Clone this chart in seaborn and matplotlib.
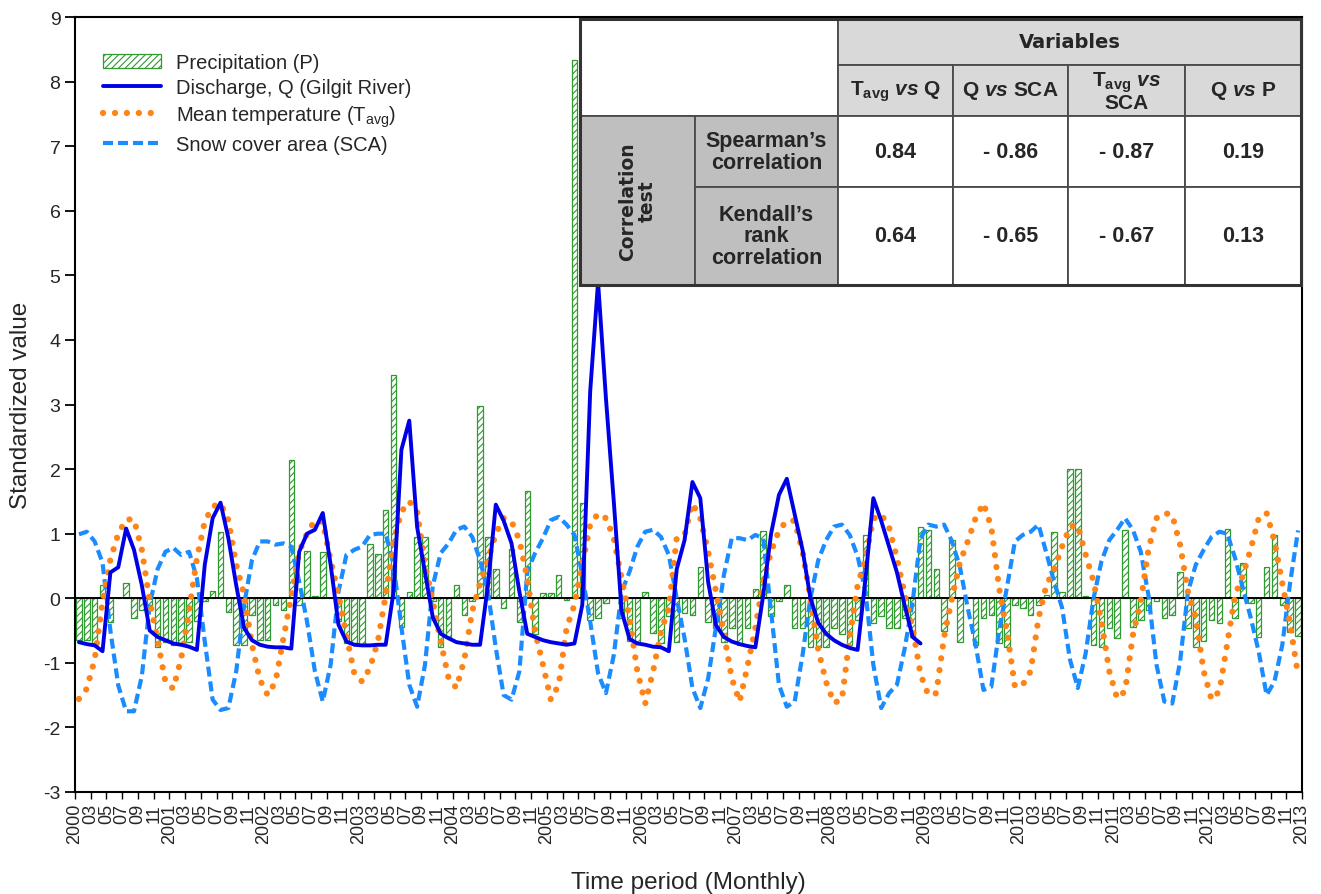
import matplotlib
matplotlib.use("Agg")
import matplotlib.pyplot as plt
import numpy as np
import seaborn as sns
from matplotlib.lines import Line2D
from matplotlib.patches import Patch, Rectangle

start_year = 2000
end_year = 2013

# standardized monthly values, one row per year (Jan..Dec)
precip = [
    -0.65, -0.65, -0.70, 0.20, -0.36, 0.00, 0.23, -0.31, -0.18, -0.10, -0.75, -0.67,  # 2000
    -0.72, -0.72, -0.67, -0.35, -0.05, 0.12, 1.02, -0.22, -0.72, -0.72, -0.26, -0.65,  # 2001
    -0.65, -0.10, -0.18, 2.14, -0.10, 0.73, 0.04, 0.72, 0.00, -0.35, -0.70, -0.70,  # 2002
    -0.72, 0.84, 0.68, 1.37, 3.45, -0.45, 0.10, 0.95, 0.95, -0.05, -0.75, -0.62,  # 2003
    0.20, -0.26, -0.05, 2.97, 0.95, 0.46, -0.15, 0.77, -0.36, 1.66, -0.55, 0.08,  # 2004
    0.08, 0.36, -0.02, 8.33, 1.47, -0.34, -0.31, -0.08, 0.00, -0.30, -0.66, -0.70,  # 2005
    0.10, -0.54, -0.70, -0.28, -0.67, -0.23, -0.26, 0.49, -0.36, -0.46, -0.67, -0.46,  # 2006
    -0.72, -0.46, 0.14, 1.04, -0.28, -0.05, 0.20, -0.46, -0.46, -0.75, -0.75, -0.75,  # 2007
    -0.46, -0.55, -0.72, -0.33, 0.98, -0.39, -0.28, -0.46, -0.46, -0.31, -0.60, 1.11,  # 2008
    1.06, 0.46, -0.50, 0.90, -0.67, 0.00, -0.72, -0.30, -0.26, -0.70, -0.75, -0.10,  # 2009
    -0.15, -0.26, -0.10, 0.05, 1.03, 0.10, 2.00, 2.00, 0.04, -0.72, -0.75, -0.46,  # 2010
    -0.62, 1.05, -0.45, -0.33, -0.18, -0.05, -0.30, -0.26, 0.40, -0.46, -0.75, -0.66,  # 2011
    -0.33, -0.39, 1.07, -0.30, 0.54, -0.08, -0.60, 0.49, 0.98, -0.10, -0.52, -0.58,  # 2012
]

discharge = [
    -0.68, -0.71, -0.73, -0.82, 0.40, 0.48, 1.08, 0.75, 0.20, -0.50, -0.60, -0.65,  # 2000
    -0.70, -0.72, -0.75, -0.80, 0.52, 1.24, 1.48, 0.93, 0.20, -0.46, -0.65, -0.72,  # 2001
    -0.75, -0.76, -0.76, -0.78, 0.72, 1.00, 1.06, 1.32, 0.52, -0.41, -0.67, -0.72,  # 2002
    -0.73, -0.73, -0.72, -0.72, 0.10, 2.30, 2.75, 1.10, 0.40, -0.30, -0.55, -0.62,  # 2003
    -0.68, -0.70, -0.72, -0.72, 0.20, 1.45, 1.20, 0.85, 0.10, -0.55, -0.60, -0.65,  # 2004
    -0.68, -0.70, -0.72, -0.70, -0.10, 3.20, 4.90, 3.10, 1.50, -0.20, -0.63, -0.70,  # 2005
    -0.72, -0.75, -0.76, -0.82, 0.45, 0.90, 1.80, 1.55, 0.25, -0.42, -0.60, -0.67,  # 2006
    -0.71, -0.74, -0.76, 0.05, 1.00, 1.60, 1.85, 1.30, 0.75, 0.00, -0.38, -0.55,  # 2007
    -0.65, -0.72, -0.77, -0.80, 0.30, 1.55, 1.20, 0.80, 0.40, -0.12, -0.60, -0.70,  # 2008
]

temperature = [
    -1.56, -1.40, -0.95, -0.05, 0.60, 1.00, 1.22, 1.22, 0.75, -0.05, -0.65, -1.30,  # 2000
    -1.40, -0.93, -0.20, 0.62, 1.19, 1.42, 1.47, 1.21, 0.52, 0.05, -0.72, -1.26,  # 2001
    -1.50, -1.29, -0.62, 0.03, 0.72, 1.00, 1.21, 1.18, 0.59, 0.05, -0.57, -1.16,  # 2002
    -1.29, -1.08, -0.67, 0.05, 0.88, 1.34, 1.50, 1.34, 0.52, -0.05, -0.67, -1.24,  # 2003
    -1.39, -0.95, -0.20, 0.23, 0.59, 1.00, 1.24, 1.19, 0.90, 0.31, -0.52, -1.03,  # 2004
    -1.57, -1.34, -0.46, -0.10, 0.52, 1.14, 1.31, 1.24, 0.93, 0.31, -0.31, -1.13,  # 2005
    -1.63, -1.13, -0.52, -0.15, 0.93, 0.98, 1.47, 1.24, 0.72, 0.10, -0.55, -1.24,  # 2006
    -1.60, -1.05, -0.46, 0.26, 0.72, 1.05, 1.20, 1.20, 0.72, 0.00, -0.80, -1.30,  # 2007
    -1.62, -1.57, -0.60, 0.20, 0.62, 1.23, 1.30, 1.10, 0.62, 0.05, -0.46, -1.18,  # 2008
    -1.50, -1.47, -0.60, 0.00, 0.55, 0.88, 1.24, 1.47, 1.10, 0.15, -0.52, -1.37,  # 2009
    -1.34, -1.13, -0.31, 0.20, 0.45, 0.80, 1.11, 1.13, 0.67, 0.26, -0.36, -1.13,  # 2010
    -1.55, -1.44, -0.57, -0.05, 0.77, 1.24, 1.32, 1.29, 0.83, 0.10, -0.31, -1.13,  # 2011
    -1.57, -1.44, -0.70, 0.05, 0.36, 0.77, 1.24, 1.32, 0.88, 0.23, -0.41, -1.19,  # 2012
]

snow_cover = [
    0.99, 1.03, 0.88, 0.55, -0.50, -1.35, -1.75, -1.75, -1.20, -0.10, 0.45, 0.72,  # 2000
    0.78, 0.67, 0.72, 0.31, -0.67, -1.57, -1.73, -1.70, -1.13, -0.10, 0.59, 0.88,  # 2001
    0.88, 0.83, 0.85, 0.80, 0.26, -0.36, -1.13, -1.60, -1.03, 0.10, 0.67, 0.75,  # 2002
    0.80, 0.98, 1.00, 1.00, 0.52, -0.45, -1.34, -1.68, -1.03, 0.20, 0.70, 0.85,  # 2003
    1.06, 1.11, 0.95, 0.59, 0.10, -0.77, -1.50, -1.57, -1.13, 0.41, 0.70, 0.93,  # 2004
    1.21, 1.26, 1.14, 0.98, 0.36, -0.36, -1.16, -1.47, -0.88, 0.10, 0.41, 0.80,  # 2005
    1.03, 1.06, 0.95, 0.67, 0.00, -0.62, -1.39, -1.70, -1.24, -0.44, 0.36, 0.93,  # 2006
    0.93, 0.90, 0.98, 0.93, -0.20, -1.34, -1.68, -1.60, -0.88, 0.00, 0.59, 0.90,  # 2007
    1.11, 1.14, 0.98, 0.65, 0.10, -1.03, -1.70, -1.47, -1.34, -0.77, -0.05, 0.93,  # 2008
    1.14, 1.11, 1.14, 0.88, 0.49, -0.15, -0.72, -1.42, -1.37, -0.50, 0.18, 0.88,  # 2009
    0.98, 1.03, 1.14, 0.70, 0.25, -0.15, -0.95, -1.39, -0.85, 0.00, 0.57, 0.90,  # 2010
    1.06, 1.24, 1.06, 0.72, 0.03, -1.03, -1.60, -1.63, -0.98, 0.10, 0.52, 0.75,  # 2011
    0.95, 1.03, 1.00, 0.62, 0.15, -0.31, -0.83, -1.50, -1.29, -0.72, 0.25, 1.05,  # 2012
]

legend_labels = [
    "Precipitation (P)",
    "Discharge, Q (Gilgit River)",
    r"Mean temperature (T$_{\mathregular{avg}}$)",
    "Snow cover area (SCA)",
]

table_title = "Variables"
table_cols = [
    r"T$_{\mathregular{avg}}$ $\mathit{vs}$ Q",
    r"Q $\mathit{vs}$ SCA",
    "T$_{\\mathregular{avg}}$ $\\mathit{vs}$\nSCA",
    r"Q $\mathit{vs}$ P",
]
table_group = "Correlation\ntest"
table_rows = ["Spearman\u2019s\ncorrelation", "Kendall\u2019s\nrank\ncorrelation"]
spearman = ["0.84", "- 0.86", "- 0.87", "0.19"]
kendall = ["0.64", "- 0.65", "- 0.67", "0.13"]

GREEN = "#2f9a2f"
Q_BLUE = "#0000e6"
T_ORANGE = "#ff8418"
SCA_BLUE = "#1a8cff"

sns.set_style("ticks")
plt.rcParams["font.family"] = ["Liberation Sans", "DejaVu Sans"]
plt.rcParams["axes.unicode_minus"] = False
plt.rcParams["mathtext.fontset"] = "custom"
plt.rcParams["mathtext.it"] = "Liberation Sans:italic:bold"
plt.rcParams["mathtext.rm"] = "Liberation Sans"
plt.rcParams["hatch.linewidth"] = 0.8

W, H = 1321, 895
fig = plt.figure(figsize=(W / 100, H / 100), dpi=100)
ax = fig.add_axes([75 / W, 1 - 793 / H, 1227 / W, 775 / H])

n_months = 12 * (end_year - start_year)
months = np.arange(n_months) + 0.5

sns.barplot(x=months[:len(precip)], y=precip, native_scale=True, fill=False,
            color=GREEN, hatch="/////", width=0.7, linewidth=0.9,
            errorbar=None, ax=ax, zorder=2)
ax.axhline(0, color="black", lw=1.4, zorder=3)

sca_style = (0, (2.4, 1.2))
t_style = (0, (0.01, 1.9))
sns.lineplot(x=months[:len(snow_cover)], y=snow_cover, color=SCA_BLUE, lw=3,
             linestyle=sca_style, ax=ax, zorder=4)
sns.lineplot(x=months[:len(temperature)], y=temperature, color=T_ORANGE, lw=4.5,
             linestyle=t_style, dash_capstyle="round", ax=ax, zorder=5)
sns.lineplot(x=months[:len(discharge)], y=discharge, color=Q_BLUE, lw=2.8,
             ax=ax, zorder=6)

ticks = np.arange(0, n_months + 1, 2)
labels = [str(start_year + t // 12) if t % 12 == 0 else f"{t % 12 + 1:02d}" for t in ticks]
ax.set_xticks(ticks)
ax.set_xticklabels(labels, rotation=90, fontsize=13)
ax.set_xlim(0, n_months)
ax.set_ylim(-3, 9)
ax.set_yticks(range(-3, 10))
ax.tick_params(axis="y", labelsize=14, length=7, width=1.3, color="black")
ax.tick_params(axis="x", length=5, width=1.0, color="black", pad=3)
for sp in ax.spines.values():
    sp.set_color("black")
    sp.set_linewidth(1.5)
ax.set_xlabel("Time period (Monthly)", fontsize=17.5, labelpad=20)
ax.set_ylabel("Standardized value", fontsize=17.5, labelpad=8)

handles = [
    Patch(facecolor="white", edgecolor=GREEN, hatch="/////", lw=0.9),
    Line2D([], [], color=Q_BLUE, lw=2.8),
    Line2D([], [], color=T_ORANGE, lw=4.5, linestyle=t_style, dash_capstyle="round"),
    Line2D([], [], color=SCA_BLUE, lw=3, linestyle=sca_style),
]
ax.legend(handles, legend_labels, loc="upper left", bbox_to_anchor=(0.008, 0.977),
          frameon=False, fontsize=14.5, handlelength=2.9, handletextpad=0.75,
          labelspacing=0.3)

# correlation table in the upper right corner
fx = lambda x: x / W
fy = lambda y: 1 - y / H
col_x = [580, 695, 838, 953, 1068, 1185, 1301]
row_y = [20, 66, 117, 188, 286]
LIGHT = "#d9d9d9"
DARK = "#bfbfbf"
EDGE = "#4a4a4a"


def cell(x0, x1, y0, y1, face, text=None, **kw):
    fig.add_artist(Rectangle((fx(x0), fy(y1)), fx(x1) - fx(x0), fy(y0) - fy(y1),
                             transform=fig.transFigure, facecolor=face,
                             edgecolor=EDGE, lw=1.3, zorder=5))
    if text is not None:
        opts = dict(ha="center", va="center", fontsize=15.5, fontweight="bold",
                    family=["Liberation Sans Narrow", "Liberation Sans"],
                    multialignment="center", zorder=6)
        opts.update(kw)
        fig.text(fx((x0 + x1) / 2), fy((y0 + y1) / 2), text, **opts)


cell(col_x[0], col_x[2], row_y[0], row_y[2], "white")
cell(col_x[2], col_x[6], row_y[0], row_y[1], LIGHT, table_title,
     family=["DejaVu Sans"], fontsize=14)
for j, name in enumerate(table_cols):
    cell(col_x[j + 2], col_x[j + 3], row_y[1], row_y[2], LIGHT, name,
         fontsize=15, linespacing=0.95)
cell(col_x[0], col_x[1], row_y[2], row_y[4], DARK, table_group,
     family=["DejaVu Sans"], fontsize=13.5, rotation=90, linespacing=1.0)
for i, (name, vals) in enumerate(zip(table_rows, [spearman, kendall])):
    cell(col_x[1], col_x[2], row_y[i + 2], row_y[i + 3], DARK, name, linespacing=1.05)
    for j, v in enumerate(vals):
        cell(col_x[j + 2], col_x[j + 3], row_y[i + 2], row_y[i + 3], "white", v)
fig.add_artist(Rectangle((fx(col_x[0]), fy(row_y[4])), fx(col_x[6]) - fx(col_x[0]),
                         fy(row_y[0]) - fy(row_y[4]), transform=fig.transFigure,
                         facecolor="none", edgecolor="#333333", lw=2.2, zorder=7))

fig.savefig("out.png", dpi=100)
